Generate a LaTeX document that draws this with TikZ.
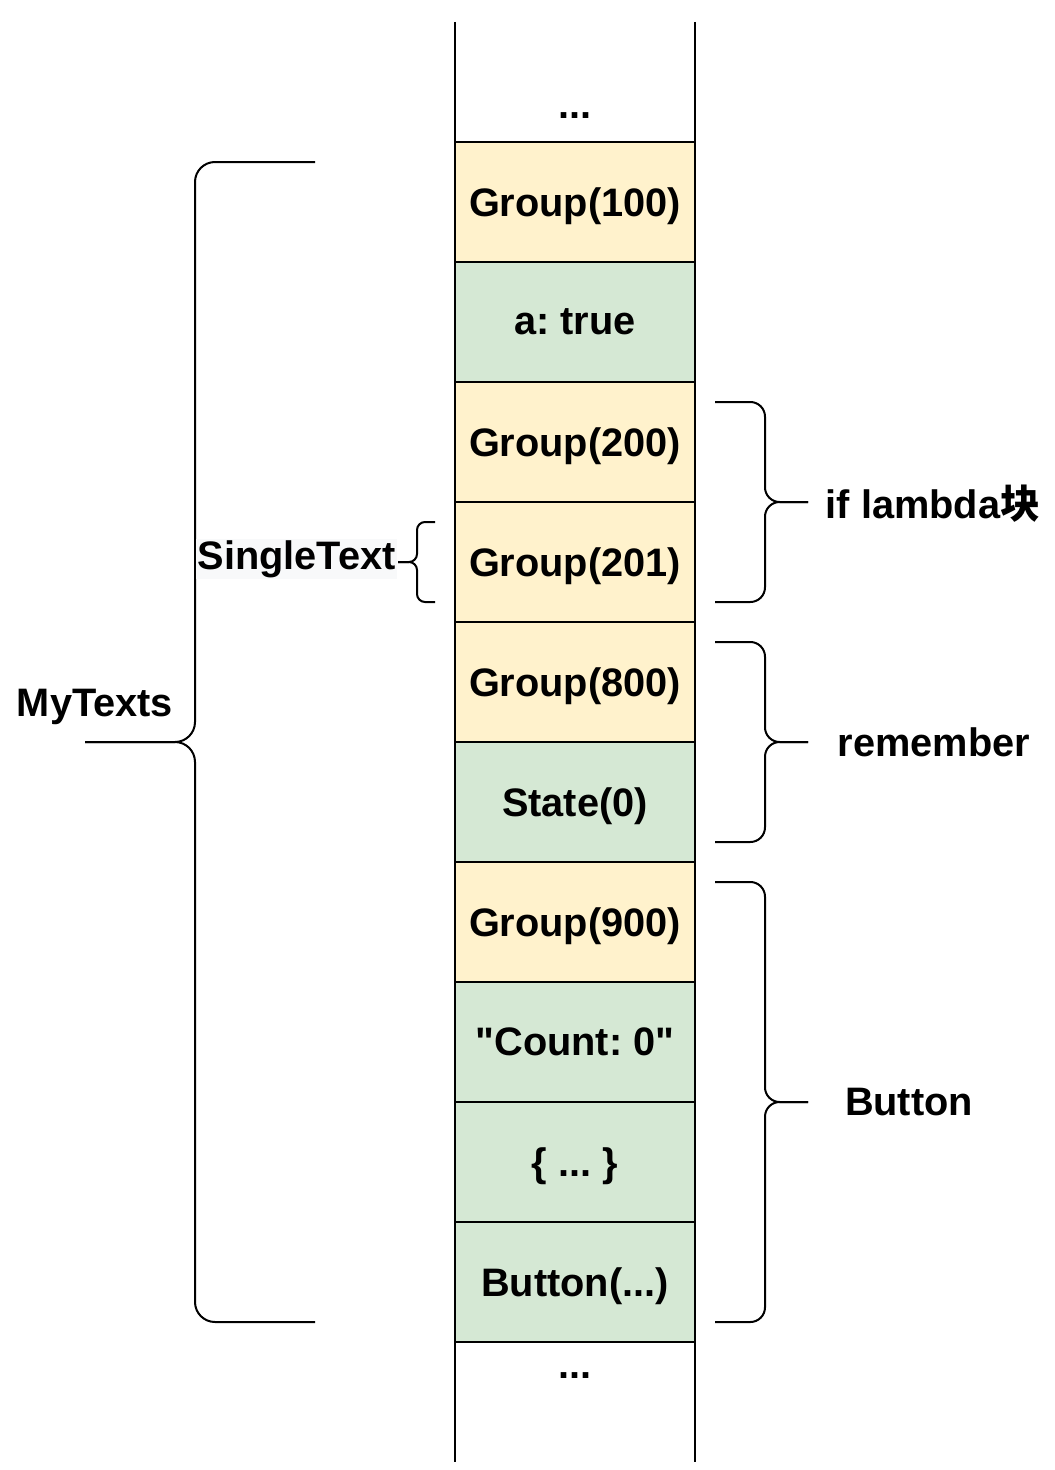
\documentclass[tikz,border=0pt]{standalone}
\usepackage{fontspec}
\setmainfont{Liberation Sans}
\newfontfamily\cjk{Noto Sans CJK SC}
\usetikzlibrary{positioning}

\definecolor{groupyellow}{HTML}{FFF2CC}
\definecolor{slotgreen}{HTML}{D5E8D4}
\definecolor{labelgray}{HTML}{F8F9FA}

\begin{document}
\frenchspacing
\begin{tikzpicture}[x=0.75pt,y=-0.75pt,
    line width=1.5pt,
    font=\fontsize{29.8}{36}\selectfont\bfseries,
    text depth=0pt,
    slot/.style={draw,minimum width=180pt,minimum height=90pt,inner sep=0pt,outer sep=0pt},
    group/.style={slot,fill=groupyellow},
    value/.style={slot,fill=slotgreen},
    brace/.style={line width=1.5pt,rounded corners=#1},
    brace/.default=11pt]
    \useasboundingbox (0,0) rectangle (1054,1470);

    % Slot table
    \node[group,anchor=north west] (g100) at (455,142) {Group(100)};
    \node[value,below=0pt of g100] (atrue) {a: true};
    \node[group,below=0pt of atrue] (g200) {Group(200)};
    \node[group,below=0pt of g200] (g201) {Group(201)};
    \node[group,below=0pt of g201] (g800) {Group(800)};
    \node[value,below=0pt of g800] (state) {State(0)};
    \node[group,below=0pt of state] (g900) {Group(900)};
    \node[value,below=0pt of g900] (count) {\textquotedbl Count: 0\textquotedbl};
    \node[value,below=0pt of count] (lambda) {\{ ... \}};
    \node[value,below=0pt of lambda] (button) {Button(...)};

    % Open ends of the table
    \coordinate (TL) at (455,22);
    \coordinate (TR) at (695,22);
    \coordinate (BL) at (455,1462);
    \coordinate (BR) at (695,1462);
    \draw (TL) -- (g100.north west);
    \draw (TR) -- (g100.north east);
    \draw (button.south west) -- (BL);
    \draw (button.south east) -- (BR);
    \node[anchor=base] (dotstop) at (575,118) {...};
    \node[anchor=base] (dotsbot) at (575,1378) {...};

    % MyTexts brace
    \coordinate (mt1) at (315,162);
    \coordinate (mt2) at (315,1322);
    \coordinate (mttip) at (85,742);
    \draw[brace=15pt] (mt1) -- (195,162) -- (195,742) -- (mttip);
    \draw[brace=15pt] (mt2) -- (195,1322) -- (195,742) -- (mttip);
    \node (mytexts) at (95,703) {MyTexts};

    % SingleText brace
    \coordinate (st1) at (435,522);
    \coordinate (st2) at (435,602);
    \coordinate (sttip) at (398,562);
    \draw[brace=6pt] (st1) -- (417,522) -- (417,562) -- (sttip);
    \draw[brace=6pt] (st2) -- (417,602) -- (417,562) -- (sttip);
    \node[fill=labelgray,inner sep=1pt,text depth=,anchor=east] (single) at (398,559) {SingleText};

    % if lambda brace
    \coordinate (if1) at (715,402);
    \coordinate (if2) at (715,602);
    \coordinate (iftip) at (808,502);
    \draw[brace] (if1) -- (765,402) -- (765,502) -- (iftip);
    \draw[brace] (if2) -- (765,602) -- (765,502) -- (iftip);
    \node (iflambda) at (933,502) {if lambda{\cjk 块}};

    % remember brace
    \coordinate (rm1) at (715,642);
    \coordinate (rm2) at (715,842);
    \coordinate (rmtip) at (808,742);
    \draw[brace] (rm1) -- (765,642) -- (765,742) -- (rmtip);
    \draw[brace] (rm2) -- (765,842) -- (765,742) -- (rmtip);
    \node (remember) at (934,742) {remember};

    % Button brace
    \coordinate (bt1) at (715,882);
    \coordinate (bt2) at (715,1322);
    \coordinate (bttip) at (808,1102);
    \draw[brace] (bt1) -- (765,882) -- (765,1102) -- (bttip);
    \draw[brace] (bt2) -- (765,1322) -- (765,1102) -- (bttip);
    \node (buttonlbl) at (909,1102) {Button};
\end{tikzpicture}
\end{document}
